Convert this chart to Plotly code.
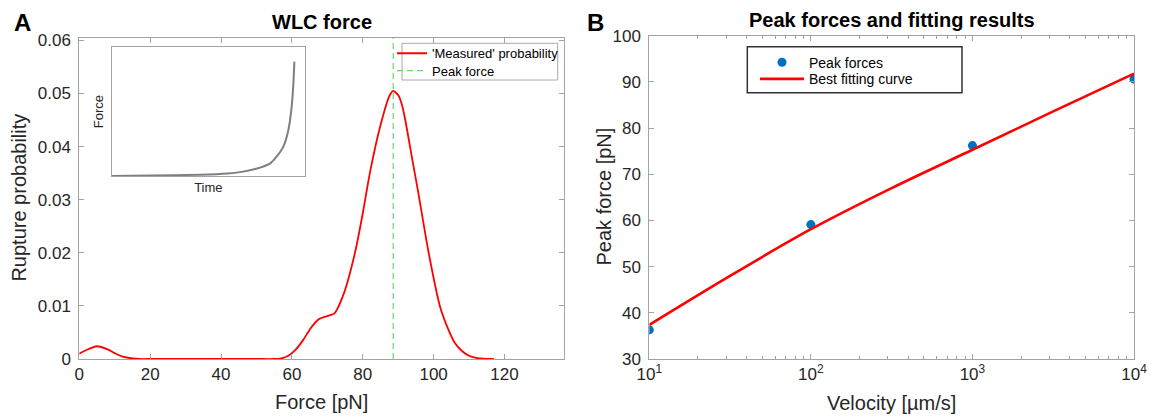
import plotly.graph_objects as go

W, H = 1151, 417

# ---------------- data ----------------
# Panel A: 'Measured' rupture probability vs force
force_pN = [0, 2, 5, 8, 10, 12, 15, 17, 20, 30, 40, 50, 55, 57, 59, 61, 63.2, 65.3, 67.4,
            69.5, 72, 74.7, 77.8, 80, 82, 85, 87.5, 88.6, 90, 91, 92, 94, 95.5, 98.6,
            101.8, 104, 106, 108, 110, 112, 114, 117]
rupture_prob = [0.0010, 0.0017, 0.0024, 0.0018, 0.0011, 0.0005, 0.0001, 0.0, 0.0, 0.0, 0.0,
                0.0, 0.0, 0.0001, 0.0006, 0.0017, 0.0036, 0.0058, 0.0074, 0.0080, 0.0086,
                0.0124, 0.0200, 0.0274, 0.0350, 0.0440, 0.0495, 0.0505, 0.0497, 0.0480,
                0.0450, 0.0375, 0.0320, 0.0200, 0.0099, 0.0058, 0.0030, 0.0015, 0.0006,
                0.0002, 0.00005, 0.0]
peak_force = 88.6
prob_range = [0, 0.0605]

# inset: WLC force vs time (arbitrary units)
inset_time = [0, 0.2, 0.457, 0.60, 0.68, 0.767, 0.82, 0.853, 0.888, 0.914, 0.931, 0.94, 0.945]
inset_force = [0.0, 0.004, 0.010, 0.020, 0.034, 0.065, 0.098, 0.15, 0.228, 0.358, 0.539, 0.72, 0.889]

# Panel B: peak forces vs velocity and best fit
velocity = [10, 100, 1000, 10000]
peak_forces = [36.3, 59.1, 76.2, 90.6]
fit_velocity = [10, 31.6, 100, 316, 1000, 3162, 10000]
fit_force = [37.4, 48.0, 58.1, 67.0, 75.3, 83.6, 91.8]

xticksA = [0, 20, 40, 60, 80, 100, 120]
yticksA = [0, 0.01, 0.02, 0.03, 0.04, 0.05, 0.06]
yticklabelsA = ["0", "0.01", "0.02", "0.03", "0.04", "0.05", "0.06"]
xticksB = [10, 100, 1000, 10000]
xticklabelsB = ["10<sup>1</sup>", "10<sup>2</sup>", "10<sup>3</sup>", "10<sup>4</sup>"]
minorB = [m * d for d in (10, 100, 1000) for m in range(2, 10)]
yticksB = [30, 40, 50, 60, 70, 80, 90, 100]

# ---------------- helpers ----------------
def px(x):
    return x / W

def py(y):
    return 1 - y / H

FONT = "Arial, Liberation Sans, sans-serif"
AX = "#a3a3a3"
TXT = "#262626"

fig = go.Figure()

fig.add_trace(go.Scatter(x=force_pN, y=rupture_prob, mode="lines",
                         line=dict(color="#ff0000", width=1.8, shape="spline", smoothing=0.6),
                         name="'Measured' probability", xaxis="x", yaxis="y", legend="legend"))
fig.add_trace(go.Scatter(x=[peak_force, peak_force], y=prob_range, mode="lines",
                         line=dict(color="#66d966", width=1.2, dash="6px,4px"),
                         name="Peak force", xaxis="x", yaxis="y", legend="legend3"))
fig.add_trace(go.Scatter(x=inset_time, y=inset_force, mode="lines",
                         line=dict(color="#7f7f7f", width=2, shape="spline", smoothing=0.5),
                         showlegend=False, xaxis="x3", yaxis="y3"))
fig.add_trace(go.Scatter(x=velocity, y=peak_forces, mode="markers",
                         marker=dict(color="#0072bd", size=9),
                         name="Peak forces", xaxis="x2", yaxis="y2", legend="legend2"))
fig.add_trace(go.Scatter(x=fit_velocity, y=fit_force, mode="lines",
                         line=dict(color="#ff0000", width=2.6, shape="spline", smoothing=0.8),
                         name="Best fitting curve", xaxis="x2", yaxis="y2", legend="legend4"))

common = dict(showline=True, linecolor=AX, linewidth=1, mirror="ticks", ticks="inside",
              ticklen=5, tickcolor=AX, tickwidth=1, showgrid=False, zeroline=False,
              automargin=False, tickfont=dict(family=FONT, size=17, color=TXT))

yA0, yA1 = 37.7, 359
xA0, xA1 = 79.3, 564
xB0, xB1 = 649.3, 1134
yB0, yB1 = 35.7, 359

def leg(x, y, size, iw=30):
    return dict(x=px(x), y=py(y), xanchor="left", yanchor="middle", itemwidth=iw,
                bgcolor="rgba(0,0,0,0)", borderwidth=0,
                font=dict(family=FONT, size=size, color="#000000"), tracegroupgap=0)

fig.update_layout(
    width=W, height=H, margin=dict(l=0, r=0, t=0, b=0, autoexpand=False),
    paper_bgcolor="white", plot_bgcolor="white",
    font=dict(family=FONT, color=TXT),
    xaxis=dict(domain=[px(xA0), px(xA1)], range=[0, 136.8], tickmode="array",
               tickvals=xticksA, anchor="y", **common),
    yaxis=dict(domain=[py(yA1), py(yA0)], range=prob_range, tickmode="array",
               tickvals=yticksA, ticktext=yticklabelsA, anchor="x",
               ticklabelstandoff=4, **common),
    xaxis2=dict(domain=[px(xB0), px(xB1)], type="log", range=[1, 4], tickmode="array",
                tickvals=xticksB, ticktext=xticklabelsB, anchor="y2",
                minor=dict(ticks="inside", ticklen=3, tickcolor=AX, tickmode="array",
                           tickvals=minorB, showgrid=False),
                **common),
    yaxis2=dict(domain=[py(yB1), py(yB0)], range=[30, 100], tickmode="array",
                tickvals=yticksB, anchor="x2", ticklabelstandoff=4, **common),
    xaxis3=dict(domain=[px(111.7), px(305)], range=[0, 1], showline=True, linecolor=AX,
                linewidth=1, mirror=True, showticklabels=False, ticks="", showgrid=False,
                zeroline=False, anchor="y3", automargin=False,
                title=dict(text="Time", font=dict(family=FONT, size=13, color=TXT), standoff=6)),
    yaxis3=dict(domain=[py(176), py(47.3)], range=[0, 1], showline=True, linecolor=AX,
                linewidth=1, mirror=True, showticklabels=False, ticks="", showgrid=False,
                zeroline=False, anchor="x3", automargin=False,
                title=dict(text="Force", font=dict(family=FONT, size=13, color=TXT), standoff=4)),
    legend=leg(392, 53.3, 13),
    legend3=leg(392, 70.7, 13),
    legend2=leg(755, 62.7, 14, 44),
    legend4=leg(755, 79.3, 14, 44),
    showlegend=True,
)

# legend frames
fig.add_shape(type="rect", xref="paper", yref="paper", x0=px(402), x1=px(557.7),
              y0=py(80), y1=py(43.3), line=dict(color="#a8a8a8", width=1), fillcolor="white",
              layer="below")
fig.add_shape(type="rect", xref="paper", yref="paper", x0=px(747.3), x1=px(962),
              y0=py(92.7), y1=py(46.7), line=dict(color="#333333", width=1.5), fillcolor="white",
              layer="below")

ann = []
def text(x, y, s, size, bold=False, angle=0, xanchor="center", yanchor="middle", color=TXT):
    ann.append(dict(x=px(x), y=py(y), xref="paper", yref="paper", text=("<b>%s</b>" % s) if bold else s,
                    showarrow=False, textangle=angle, xanchor=xanchor, yanchor=yanchor,
                    font=dict(family=FONT, size=size, color=color)))

text(22, 22, "A", 24, bold=True, color="#000000")
text(596, 22, "B", 24, bold=True, color="#000000")
text(321.7, 21.5, "WLC force", 20, bold=True, color="#000000")
text(891.6, 19.5, "Peak forces and fitting results", 20, bold=True, color="#000000")
text(18.6, 198, "Rupture probability", 20, angle=-90)
text(321.7, 401.7, "Force [pN]", 20)
text(603.5, 197, "Peak force [pN]", 20, angle=-90)
text(891.6, 403, "Velocity [µm/s]", 20)
fig.update_layout(annotations=ann)

fig.write_html("out.html", config={"displayModeBar": False},
               post_script="document.body.style.margin='0px';document.body.style.overflow='hidden';")
